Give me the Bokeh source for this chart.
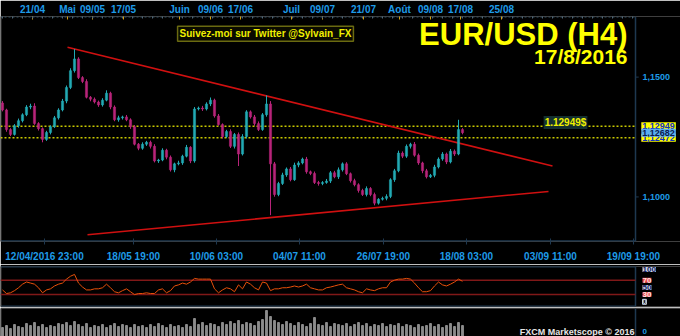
from bokeh.plotting import figure
from bokeh.models import Range1d, FixedTicker, LinearAxis, Label, ColumnDataSource
from bokeh.layouts import column
from bokeh.embed import file_html
from bokeh.resources import INLINE

# ---------------- data ----------------
first_open = 1.1392
closes = [
    1.1363, 1.1281, 1.1261, 1.1297, 1.1318, 1.1343, 1.1375, 1.1379, 1.1306, 1.1285,
    1.1240, 1.1269, 1.1293, 1.1330, 1.1363, 1.1400, 1.1457, 1.1527, 1.1576, 1.1498,
    1.1482, 1.1416, 1.1408, 1.1396, 1.1384, 1.1404, 1.1433, 1.1375, 1.1322, 1.1330,
    1.1334, 1.1322, 1.1293, 1.1220, 1.1203, 1.1220, 1.1228, 1.1211, 1.1150, 1.1154,
    1.1195, 1.1166, 1.1113, 1.1138, 1.1142, 1.1170, 1.1207, 1.1150, 1.1367, 1.1371,
    1.1367, 1.1388, 1.1404, 1.1338, 1.1302, 1.1252, 1.1273, 1.1211, 1.1261, 1.1179,
    1.1252, 1.1355, 1.1334, 1.1306, 1.1281, 1.1343, 1.1388, 1.1138, 1.1010, 1.1056,
    1.1092, 1.1117, 1.1072, 1.1133, 1.1142, 1.1158, 1.1105, 1.1098, 1.1060, 1.1056,
    1.1060, 1.1066, 1.1101, 1.1084, 1.1113, 1.1138, 1.1097, 1.1068, 1.1051, 1.1027,
    1.1010, 1.1035, 1.1010, 1.0974, 1.0990, 1.0994, 1.1002, 1.1072, 1.1109, 1.1183,
    1.1170, 1.1211, 1.1220, 1.1174, 1.1142, 1.1109, 1.1084, 1.1090, 1.1125, 1.1158,
    1.1179, 1.1146, 1.1191, 1.1179, 1.1281, 1.12682,
]
wick_up_pips = [
    8, 5, 6, 7, 9, 6, 8, 10, 12, 6,
    5, 7, 6, 8, 7, 9, 8, 10, 41, 7,
    6, 9, 5, 7, 6, 8, 12, 6, 7, 9,
    5, 8, 6, 7, 5, 8, 6, 7, 9, 5,
    8, 6, 7, 5, 9, 6, 10, 5, 8, 6,
    9, 7, 11, 6, 8, 5, 7, 9, 6, 8,
    10, 7, 6, 8, 9, 7, 36, 12, 8, 7,
    9, 6, 8, 10, 7, 6, 9, 5, 8, 7,
    6, 9, 7, 8, 10, 6, 7, 5, 8, 6,
    7, 9, 6, 8, 5, 7, 9, 6, 8, 10,
    7, 8, 6, 9, 7, 5, 8, 6, 9, 7,
    8, 6, 9, 7, 41, 6,
]
wick_dn_pips = [
    6, 9, 7, 5, 8, 7, 6, 9, 5, 8,
    12, 6, 8, 5, 7, 6, 9, 7, 8, 6,
    7, 5, 9, 6, 8, 7, 5, 9, 6, 8,
    7, 6, 9, 5, 8, 6, 7, 9, 6, 8,
    5, 9, 7, 10, 6, 8, 5, 9, 7, 6,
    8, 6, 9, 7, 5, 8, 6, 7, 9, 50,
    6, 8, 7, 9, 6, 5, 8, 214, 9, 7,
    6, 8, 7, 5, 9, 6, 8, 7, 6, 9,
    7, 5, 8, 6, 9, 7, 6, 8, 7, 9,
    6, 8, 7, 9, 6, 5, 8, 7, 9, 6,
    8, 7, 9, 6, 8, 10, 7, 5, 8, 6,
    7, 9, 6, 8, 5, 7,
]
rsi_values = [
    43, 33, 35, 41, 49, 59, 65, 62, 59, 49,
    35, 43, 46, 54, 59, 62, 73, 81, 86, 62,
    51, 43, 43, 46, 46, 49, 59, 49, 38, 35,
    41, 46, 38, 30, 33, 33, 35, 33, 33, 43,
    46, 35, 41, 54, 57, 62, 59, 65, 75, 73,
    73, 73, 73, 46, 35, 43, 49, 46, 38, 57,
    46, 65, 59, 49, 43, 65, 62, 41, 46, 46,
    49, 49, 51, 54, 51, 54, 59, 49, 46, 43,
    43, 49, 51, 54, 57, 59, 49, 46, 43, 38,
    35, 46, 43, 41, 46, 49, 49, 65, 70, 73,
    73, 75, 73, 62, 49, 38, 38, 41, 54, 65,
    57, 54, 59, 65, 73, 67,
]
volumes = [
    9, 11, 8, 12, 10, 9, 13, 11, 14, 10, 12, 9,
    11, 10, 13, 12, 14, 11, 15, 12, 10, 13, 9, 11,
    10, 12, 9, 11, 13, 10, 12, 11, 9, 12, 10, 11,
    9, 12, 10, 13, 11, 9, 12, 10, 11, 9, 12, 10,
    18, 12, 14, 11, 13, 12, 10, 14, 12, 15, 13, 16,
    12, 14, 13, 11, 15, 17, 26, 20, 16, 14, 12, 15,
    13, 11, 14, 12, 10, 13, 19, 12, 11, 14, 10, 13,
    12, 11, 13, 10, 12, 14, 11, 13, 10, 12, 11, 13,
    10, 12, 11, 13, 10, 12, 11, 9, 12, 10, 11, 13,
    10, 12, 9, 11, 13, 10, 14, 11,
]
# trend lines (bar index, price)
upper_trend_idx = [16.25, 137.5]
upper_trend_price = [1.1625, 1.1129]
lower_trend_idx = [21.25, 136.5]
lower_trend_price = [1.0842, 1.1023]
# horizontal levels
level_high = 1.12949
level_low = 1.12472
last_price = 1.12682
# RSI levels
rsi_upper = 70
rsi_lower = 30
# axes
top_tick_idx = [7.5, 16.25, 22.5, 30.25, 44.25, 52, 59.5, 72.25, 80, 90.25, 99.25, 107, 114.5, 124.75]
top_tick_labels = ["21/04", "Mai", "09/05", "17/05", "Juin", "09/06", "17/06", "Juil",
                   "09/07", "21/07", "Août", "09/08", "17/08", "25/08"]
bottom_tick_idx = [10.5, 32.75, 53.5, 74.25, 95.25, 116, 137, 157.75]
bottom_tick_labels = ["12/04/2016 23:00", "18/05 19:00", "10/06 03:00", "04/07 11:00",
                      "26/07 19:00", "18/08 03:00", "03/09 11:00", "19/09 19:00"]
price_ticks = [1.10, 1.15]
price_tick_labels = ["1,1000", "1,1500"]

# ---------------- derived ----------------
pip = 0.0001
n = len(closes)
idx = list(range(n))
opens = [first_open] + closes[:-1]
highs = [max(o, c) + u * pip for o, c, u in zip(opens, closes, wick_up_pips)]
lows = [min(o, c) - d * pip for o, c, d in zip(opens, closes, wick_dn_pips)]
BULL, BEAR = "#22aab4", "#b8247a"
colors = [BULL if c >= o else BEAR for o, c in zip(opens, closes)]
src = ColumnDataSource(dict(idx=idx, open=opens, close=closes, high=highs, low=lows,
                            top=[max(o, c) for o, c in zip(opens, closes)],
                            bottom=[min(o, c) for o, c in zip(opens, closes)],
                            color=colors))

FONT = "Liberation Sans"
BLUE_TXT = "#1e9be8"
AXIS_C = "#1e3850"
W = 680
X0, XEDGE, X1 = -0.5, 158.25, 169.5   # plot start, right price-axis position, canvas end
LBLX = 159.7
xr = Range1d(X0, X1)

def base_fig(h, yr, top, bottom):
    f = figure(width=W, height=h, x_range=xr, y_range=yr,
               output_backend="svg", toolbar_location=None,
               x_axis_location=None, y_axis_location=None,
               background_fill_color="black", border_fill_color="black",
               min_border_left=0, min_border_right=0,
               min_border_top=top, min_border_bottom=bottom)
    f.grid.visible = False
    f.outline_line_color = None
    return f

# ---------------- price panel ----------------
PY0, PY1 = 1.0814, 1.1753
p = base_fig(264, Range1d(PY0, PY1), 15, 20)

top_ax = LinearAxis(ticker=FixedTicker(ticks=top_tick_idx, minor_ticks=[i * 2.5 for i in range(64)]))
top_ax.major_label_overrides = {t: l for t, l in zip(top_tick_idx, top_tick_labels)}
top_ax.major_label_text_color = BLUE_TXT
top_ax.major_label_text_font = FONT
top_ax.major_label_text_font_style = "bold"
top_ax.major_label_text_font_size = "10px"
top_ax.major_label_standoff = 2
top_ax.axis_line_color = None
top_ax.major_tick_line_color = "#d4a010"
top_ax.major_tick_in = 3
top_ax.major_tick_out = 0
top_ax.minor_tick_line_color = "#50687a"
top_ax.minor_tick_in = 2
top_ax.minor_tick_out = 0
p.add_layout(top_ax, "above")

bot_ax = LinearAxis(ticker=FixedTicker(ticks=bottom_tick_idx, minor_ticks=[]))
bot_ax.major_label_overrides = {t: l for t, l in zip(bottom_tick_idx, bottom_tick_labels)}
bot_ax.major_label_text_color = BLUE_TXT
bot_ax.major_label_text_font = FONT
bot_ax.major_label_text_font_style = "bold"
bot_ax.major_label_text_font_size = "10px"
bot_ax.major_label_standoff = 6
bot_ax.axis_line_color = None
bot_ax.major_tick_line_color = AXIS_C
bot_ax.major_tick_in = 3
bot_ax.major_tick_out = 3
p.add_layout(bot_ax, "below")

# frame lines (top dashed, bottom, right price axis, left edge)
p.segment(x0=[X0], y0=[PY1 - 0.0002], x1=[XEDGE], y1=[PY1 - 0.0002],
          line_color="#3a5a70", line_dash="2 2", line_width=1)
p.segment(x0=[X0], y0=[PY0 + 0.0002], x1=[XEDGE], y1=[PY0 + 0.0002],
          line_color=AXIS_C, line_width=1.5)
p.segment(x0=[XEDGE], y0=[PY0], x1=[XEDGE], y1=[PY1], line_color=AXIS_C, line_width=1.5)
p.segment(x0=[X0 + 0.1], y0=[PY0], x1=[X0 + 0.1], y1=[PY1], line_color="#606060", line_width=1)
p.segment(x0=[XEDGE] * 2, y0=price_ticks, x1=[XEDGE + 0.8] * 2, y1=price_ticks,
          line_color=AXIS_C, line_width=1)
for t, l in zip(price_ticks, price_tick_labels):
    p.add_layout(Label(x=LBLX + 0.3, y=t, text=l, text_align="left", text_baseline="middle",
                       text_color=BLUE_TXT, text_font=FONT, text_font_style="bold",
                       text_font_size="9px"))

# levels
for lv in (level_high, level_low):
    p.segment(x0=[X0], y0=[lv], x1=[XEDGE], y1=[lv], line_color="#c8c800",
              line_width=1.5, line_dash="2 2")

# trend lines
p.line(upper_trend_idx, upper_trend_price, line_color="#d01010", line_width=1.5)
p.line(lower_trend_idx, lower_trend_price, line_color="#d01010", line_width=1.5)

# candles
p.segment(x0="idx", y0="low", x1="idx", y1="high", color="color", line_width=1, source=src)
p.vbar(x="idx", width=0.55, top="top", bottom="bottom", fill_color="color",
       line_color="color", line_width=0.5, source=src)

# titles
p.add_layout(Label(x=156.25, y=1.1677, text="EUR/USD (H4)", text_align="right",
                   text_baseline="middle", text_color="#ffff00", text_font=FONT,
                   text_font_style="bold", text_font_size="31px"))
p.add_layout(Label(x=156.25, y=1.1584, text="17/8/2016", text_align="right",
                   text_baseline="middle", text_color="#ffff00", text_font=FONT,
                   text_font_style="bold", text_font_size="21px"))
p.add_layout(Label(x=65.75, y=1.1681, text="Suivez-moi sur Twitter @Sylvain_FX",
                   text_align="center", text_baseline="middle", text_color="#f0f000",
                   text_font=FONT, text_font_style="bold", text_font_size="10px",
                   background_fill_color="#0a0a00", border_line_color="#6a6a10",
                   border_line_width=1.5, padding=2))
p.add_layout(Label(x=140.75, y=1.1311, text="1.12949$", text_align="center",
                   text_baseline="middle", text_color="#f0f000", text_font=FONT,
                   text_font_style="bold", text_font_size="10px",
                   background_fill_color="#143030", padding=1))

# price tags on the right
def tag(yv, txt, bg, fg):
    p.add_layout(Label(x=LBLX, y=yv, text=txt, text_align="left", text_baseline="middle",
                       text_color=fg, text_font=FONT, text_font_style="bold",
                       text_font_size="9px", background_fill_color=bg, padding=1))

tag(level_low, "1,12472", "#ffff00", "#1030c0")
tag(level_high, "1,12949", "#ffff00", "#1030c0")
tag(last_price, "1,12682", "#5aaef0", "#0a1a50")

# ---------------- RSI panel ----------------
RY0, RY1 = -3, 108
q = base_fig(43, Range1d(RY0, RY1), 2, 1)
q.segment(x0=[X0, X0], y0=[RY1 - 0.6, RY0 + 0.6], x1=[XEDGE, XEDGE], y1=[RY1 - 0.6, RY0 + 0.6],
          line_color=AXIS_C, line_width=1.5)
q.segment(x0=[XEDGE], y0=[RY0], x1=[XEDGE], y1=[RY1], line_color=AXIS_C, line_width=1.5)
q.segment(x0=[X0 + 0.1], y0=[RY0], x1=[X0 + 0.1], y1=[RY1], line_color="#606060", line_width=1)
q.segment(x0=[X0, X0], y0=[rsi_upper, rsi_lower], x1=[XEDGE, XEDGE], y1=[rsi_upper, rsi_lower],
          line_color="#801818", line_width=1.5)
q.line(idx, rsi_values, line_color="#e8500a", line_width=1)

def rtag(yv, txt, bg, fg, border=None, size="8px"):
    q.add_layout(Label(x=LBLX + 0.3, y=yv, text=txt, text_align="left", text_baseline="middle",
                       text_color=fg, text_font=FONT, text_font_style="bold",
                       text_font_size=size, background_fill_color=bg,
                       border_line_color=border, padding=0))

rtag(100, "100", "#c8d2e4", "#102060")
rtag(rsi_upper, "70", "#e84848", "#ffe0e0")
rtag(50, "50", "#c8d2e4", "#102060")
rtag(rsi_lower, "30", "#e84848", "#ffe0e0")
rtag(10, "0", None, "#c8d2e4", border="#c8d2e4", size="7px")

# ---------------- volume panel ----------------
v = base_fig(29, Range1d(0, 28), 1, 0)
v.segment(x0=[XEDGE], y0=[0], x1=[XEDGE], y1=[28], line_color=AXIS_C, line_width=1.5)
v.segment(x0=[X0 + 0.1], y0=[0], x1=[X0 + 0.1], y1=[28], line_color="#606060", line_width=1)
v.vbar(x=idx, top=volumes, bottom=0, width=0.45, fill_color="#8c8c8c", line_color="#8c8c8c")
v.add_layout(Label(x=158, y=5, text="FXCM Marketscope © 2016", text_align="right",
                   text_baseline="middle", text_color="#e6e6e6", text_font=FONT,
                   text_font_style="bold", text_font_size="9px"))
v.add_layout(Label(x=LBLX + 0.3, y=5, text="0", text_align="left", text_baseline="middle",
                   text_color=BLUE_TXT, text_font=FONT, text_font_style="bold",
                   text_font_size="8px"))

layout = column(p, q, v, spacing=0)
open("out.html", "w").write(file_html(layout, INLINE))
